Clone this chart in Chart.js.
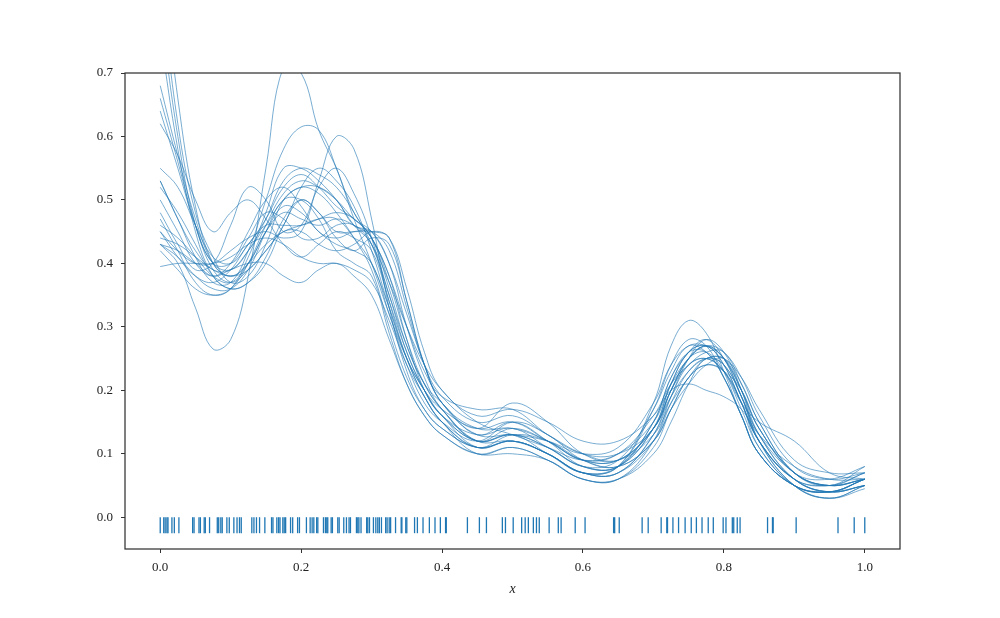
<!DOCTYPE html>
<html>
<head>
<meta charset="utf-8">
<script src="https://cdn.jsdelivr.net/npm/chart.js@4/dist/chart.umd.min.js"></script>
<style>
  html, body { margin: 0; padding: 0; background: #fff; }
  #wrap { width: 1000px; height: 618px; position: relative; }
</style>
</head>
<body>
<div id="wrap"><canvas id="kde"></canvas></div>
<script>
// grid the curves were read on
var xs = [0, 0.025, 0.05, 0.075, 0.1, 0.125, 0.15, 0.175, 0.2, 0.225, 0.25, 0.275, 0.3, 0.325, 0.35, 0.375,
          0.4, 0.45, 0.5, 0.55, 0.6, 0.65, 0.7, 0.725, 0.75, 0.775, 0.8, 0.825, 0.85, 0.9, 0.95, 1.0];

// bootstrap density curves
var c1  = [0.43,0.40,0.33,0.265,0.28,0.38,0.55,0.71,0.70,0.61,0.55,0.48,0.44,0.38,0.28,0.20,0.16,0.12,0.13,0.10,0.07,0.08,0.17,0.24,0.28,0.27,0.22,0.16,0.10,0.05,0.04,0.06];
var c2  = [0.53,0.47,0.41,0.37,0.37,0.42,0.50,0.58,0.615,0.61,0.55,0.47,0.40,0.32,0.25,0.20,0.17,0.14,0.15,0.12,0.09,0.09,0.14,0.20,0.25,0.27,0.25,0.20,0.14,0.07,0.05,0.06];
var c3  = [0.45,0.42,0.40,0.40,0.42,0.44,0.45,0.44,0.45,0.53,0.60,0.58,0.47,0.33,0.23,0.17,0.14,0.11,0.12,0.10,0.07,0.08,0.15,0.22,0.26,0.26,0.22,0.16,0.10,0.05,0.04,0.05];
var c4  = [0.80,0.60,0.46,0.40,0.39,0.42,0.47,0.53,0.55,0.54,0.52,0.48,0.43,0.35,0.27,0.21,0.18,0.13,0.15,0.12,0.08,0.08,0.14,0.21,0.26,0.27,0.24,0.18,0.12,0.06,0.05,0.07];
var c5  = [0.85,0.62,0.48,0.41,0.37,0.38,0.43,0.50,0.52,0.52,0.50,0.46,0.45,0.40,0.30,0.22,0.17,0.12,0.13,0.11,0.08,0.09,0.17,0.23,0.27,0.26,0.22,0.16,0.10,0.05,0.04,0.06];
var c6  = [0.76,0.58,0.45,0.38,0.36,0.37,0.40,0.46,0.50,0.48,0.45,0.45,0.45,0.44,0.34,0.24,0.18,0.14,0.14,0.12,0.09,0.10,0.16,0.21,0.24,0.26,0.26,0.21,0.15,0.07,0.05,0.08];
var c7  = [0.68,0.57,0.47,0.40,0.38,0.40,0.45,0.48,0.47,0.46,0.47,0.46,0.44,0.37,0.28,0.21,0.17,0.12,0.12,0.10,0.07,0.07,0.13,0.19,0.24,0.25,0.23,0.18,0.12,0.06,0.04,0.05];
var c8  = [0.66,0.56,0.46,0.39,0.37,0.39,0.42,0.46,0.52,0.55,0.53,0.49,0.42,0.33,0.25,0.20,0.16,0.11,0.12,0.10,0.07,0.08,0.18,0.27,0.31,0.29,0.23,0.16,0.10,0.05,0.04,0.06];
var c9  = [0.64,0.55,0.46,0.40,0.40,0.44,0.48,0.47,0.44,0.44,0.46,0.46,0.43,0.37,0.30,0.24,0.20,0.15,0.13,0.11,0.09,0.10,0.15,0.21,0.25,0.27,0.26,0.22,0.16,0.08,0.06,0.07];
var c10 = [0.62,0.57,0.50,0.45,0.48,0.50,0.47,0.43,0.41,0.43,0.45,0.44,0.42,0.34,0.26,0.20,0.16,0.13,0.14,0.11,0.08,0.08,0.14,0.21,0.26,0.27,0.24,0.18,0.12,0.06,0.05,0.06];
var c11 = [0.55,0.52,0.46,0.41,0.40,0.43,0.47,0.52,0.54,0.52,0.49,0.47,0.44,0.36,0.27,0.21,0.17,0.12,0.14,0.12,0.09,0.09,0.14,0.19,0.23,0.25,0.25,0.20,0.13,0.06,0.04,0.05];
var c12 = [0.53,0.47,0.42,0.39,0.39,0.42,0.46,0.50,0.52,0.51,0.48,0.44,0.39,0.30,0.22,0.17,0.14,0.11,0.12,0.10,0.07,0.07,0.12,0.18,0.23,0.25,0.24,0.19,0.13,0.06,0.04,0.05];
var c13 = [0.52,0.48,0.43,0.38,0.36,0.37,0.41,0.47,0.50,0.48,0.44,0.42,0.44,0.43,0.34,0.24,0.18,0.13,0.13,0.12,0.10,0.11,0.18,0.24,0.27,0.27,0.25,0.20,0.14,0.07,0.06,0.08];
var c14 = [0.50,0.45,0.40,0.38,0.40,0.45,0.50,0.52,0.49,0.45,0.44,0.45,0.45,0.42,0.33,0.24,0.19,0.15,0.16,0.13,0.10,0.09,0.13,0.18,0.22,0.25,0.25,0.22,0.17,0.09,0.07,0.07];
var c15 = [0.46,0.44,0.41,0.38,0.37,0.40,0.45,0.49,0.48,0.45,0.43,0.42,0.40,0.32,0.24,0.18,0.15,0.12,0.15,0.13,0.09,0.08,0.12,0.17,0.21,0.24,0.25,0.21,0.15,0.07,0.05,0.06];
var c16 = [0.45,0.41,0.38,0.37,0.39,0.43,0.46,0.46,0.46,0.47,0.48,0.47,0.44,0.38,0.30,0.23,0.19,0.17,0.17,0.13,0.10,0.10,0.14,0.20,0.24,0.25,0.23,0.18,0.15,0.12,0.07,0.06];
var c17 = [0.44,0.43,0.41,0.39,0.38,0.39,0.42,0.45,0.45,0.43,0.42,0.43,0.45,0.44,0.36,0.26,0.20,0.16,0.17,0.15,0.12,0.12,0.16,0.20,0.21,0.20,0.19,0.17,0.13,0.08,0.06,0.06];
var c18 = [0.43,0.41,0.38,0.36,0.36,0.39,0.45,0.50,0.50,0.47,0.42,0.40,0.38,0.29,0.21,0.16,0.13,0.10,0.11,0.09,0.06,0.06,0.10,0.15,0.21,0.25,0.24,0.19,0.12,0.05,0.03,0.05];
var c19 = [0.43,0.42,0.40,0.38,0.39,0.40,0.40,0.38,0.37,0.39,0.40,0.38,0.35,0.28,0.21,0.16,0.13,0.10,0.10,0.09,0.06,0.06,0.11,0.17,0.22,0.24,0.23,0.18,0.11,0.05,0.03,0.045];
var c20 = [0.395,0.40,0.40,0.40,0.41,0.43,0.44,0.43,0.41,0.40,0.40,0.39,0.37,0.31,0.24,0.19,0.15,0.11,0.13,0.12,0.09,0.08,0.12,0.17,0.22,0.24,0.23,0.20,0.14,0.07,0.05,0.06];
var c21 = [0.90,0.66,0.49,0.40,0.38,0.40,0.43,0.45,0.46,0.47,0.47,0.44,0.40,0.33,0.25,0.19,0.15,0.10,0.11,0.09,0.06,0.06,0.12,0.19,0.25,0.28,0.26,0.20,0.12,0.05,0.03,0.05];
var c22 = [0.47,0.42,0.37,0.35,0.36,0.41,0.48,0.55,0.55,0.53,0.50,0.46,0.43,0.35,0.26,0.20,0.16,0.12,0.13,0.11,0.08,0.08,0.15,0.22,0.26,0.28,0.25,0.19,0.12,0.06,0.04,0.06];
var c23 = [0.42,0.39,0.36,0.35,0.36,0.40,0.46,0.51,0.53,0.52,0.50,0.47,0.45,0.40,0.32,0.24,0.18,0.14,0.18,0.15,0.10,0.09,0.14,0.20,0.25,0.27,0.25,0.19,0.13,0.07,0.05,0.07];
var c24 = [0.48,0.43,0.39,0.40,0.46,0.52,0.50,0.45,0.46,0.52,0.55,0.51,0.44,0.34,0.25,0.19,0.15,0.11,0.12,0.10,0.07,0.07,0.13,0.20,0.25,0.26,0.23,0.17,0.11,0.05,0.04,0.06];
var curves = [c1,c2,c3,c4,c5,c6,c7,c8,c9,c10,c11,c12,c13,c14,c15,c16,c17,c18,c19,c20,c21,c22,c23,c24];

// observed samples (rug)
var rugX = [0.000,0.005,0.007,0.0095,0.011,0.0166,0.020,0.0265,0.046,0.048,0.055,0.057,0.0624,0.064,0.070,
            0.081,0.083,0.086,0.088,0.0946,0.098,0.1045,0.109,0.1125,0.115,0.130,0.133,0.1366,0.141,0.1485,
            0.158,0.160,0.1655,0.168,0.170,0.174,0.176,0.178,0.185,0.188,0.195,0.1976,0.2075,0.2128,0.2156,
            0.218,0.222,0.2237,0.2317,0.2345,0.2364,0.2378,0.2426,0.2444,0.252,0.254,0.2605,0.2643,0.268,0.270,
            0.2785,0.2804,0.282,0.285,0.293,0.2946,0.297,0.3026,0.306,0.3088,0.311,0.314,0.320,0.322,0.325,
            0.327,0.334,0.342,0.343,0.3485,0.350,0.361,0.365,0.373,0.382,0.390,0.3976,0.405,0.406,0.436,
            0.453,0.463,0.4856,0.490,0.501,0.513,0.518,0.5225,0.5296,0.534,0.538,0.552,0.565,0.569,0.589,
            0.603,0.6435,0.645,0.6515,0.684,0.6926,0.711,0.719,0.720,0.7277,0.7357,0.745,0.7537,0.761,0.769,
            0.7778,0.785,0.799,0.803,0.812,0.814,0.819,0.823,0.862,0.869,0.870,0.9026,0.962,0.985,1.0];
var rugLevel = -0.0125;

var xTicks = [0, 0.2, 0.4, 0.6, 0.8, 1.0];
var yTicks = [0, 0.1, 0.2, 0.3, 0.4, 0.5, 0.6, 0.7];

var blue = 'rgba(31, 119, 180, 0.6)';
var serif = "'Liberation Serif', 'DejaVu Serif', serif";

var datasets = [];
for (var i in curves) {
	var pts = [];
	for (var j in xs) pts.push({x: xs[j], y: curves[i][j]});
	datasets.push({
		type: 'line',
		data: pts,
		borderColor: blue,
		borderWidth: 1,
		pointRadius: 0,
		fill: false,
		tension: 0.4,
		clip: 0
	});
}
datasets.push({
	type: 'scatter',
	data: rugX.map(function(v) { return {x: v, y: rugLevel}; }),
	pointStyle: 'line',
	rotation: 90,
	radius: 8,
	borderWidth: 1.3,
	borderColor: '#1f77b4',
	backgroundColor: '#1f77b4'
});

// top and right spines
var frame = {
	id: 'frame',
	afterDraw: function(chart) {
		var a = chart.chartArea, ctx = chart.ctx;
		ctx.save();
		ctx.strokeStyle = '#333';
		ctx.lineWidth = 1.25;
		ctx.strokeRect(a.left, a.top, a.right - a.left, a.bottom - a.top);
		ctx.restore();
	}
};

new Chart(document.getElementById('kde'), {
	type: 'line',
	data: { datasets: datasets },
	plugins: [frame],
	options: {
		responsive: true,
		maintainAspectRatio: false,
		animation: false,
		layout: { padding: { left: 0, top: 73, right: 100, bottom: 0 } },
		plugins: { legend: { display: false }, tooltip: { enabled: false } },
		scales: {
			x: {
				type: 'linear',
				min: -0.05,
				max: 1.05,
				afterBuildTicks: function(s) { s.ticks = xTicks.map(function(v) { return {value: v}; }); },
				afterFit: function(s) { s.height = 69; },
				grid: { drawOnChartArea: false, drawTicks: true, tickLength: 4, color: '#333', tickWidth: 1 },
				border: { display: false },
				ticks: {
					color: '#222',
					padding: 7,
					maxRotation: 0,
					font: { family: serif, size: 13 },
					callback: function(v) { return v.toFixed(1); }
				},
				title: {
					display: true,
					text: 'x',
					color: '#222',
					padding: { top: 0, bottom: 20 },
					font: { family: serif, size: 14, style: 'italic' }
				}
			},
			y: {
				type: 'linear',
				min: -0.05,
				max: 0.7,
				afterBuildTicks: function(s) { s.ticks = yTicks.map(function(v) { return {value: v}; }); },
				afterFit: function(s) { s.width = 125; },
				grid: { drawOnChartArea: false, drawTicks: true, tickLength: 4, color: '#333', tickWidth: 1 },
				border: { display: false },
				ticks: {
					color: '#222',
					padding: 8,
					font: { family: serif, size: 13 },
					callback: function(v) { return v.toFixed(1); }
				}
			}
		}
	}
});
</script>
</body>
</html>
